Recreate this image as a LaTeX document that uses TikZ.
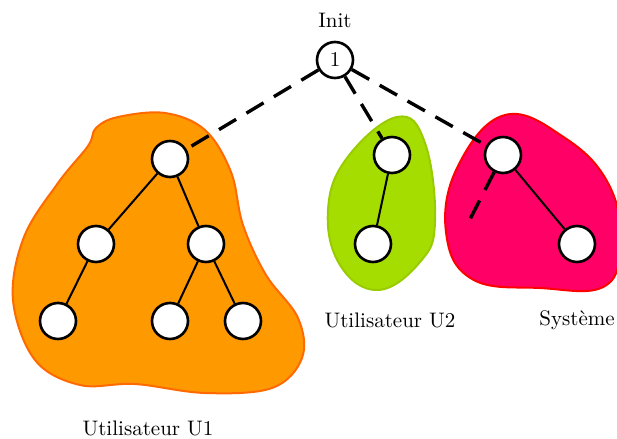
\documentclass[tikz,border=0pt]{standalone}
\usetikzlibrary{calc}
\definecolor{uorange}{HTML}{FF9900}
\definecolor{uorangeline}{HTML}{FF6A00}
\definecolor{ugreen}{HTML}{A6DD00}
\definecolor{ugreenline}{HTML}{99CC00}
\definecolor{upink}{HTML}{FF0066}
\definecolor{upinkline}{HTML}{FF0000}
\begin{document}
\begin{tikzpicture}[x=0.5pt,y=-0.5pt,
  every node/.style={font=\fontsize{10.5}{12}\selectfont},
  vert/.style={circle,draw=black,fill=white,line width=1.3pt,minimum size=18pt,inner sep=0pt},
  treeedge/.style={line width=1pt},
  dashedge/.style={line width=1.7pt,dash pattern=on 10pt off 6pt},
  blob/.style={line width=1pt}]
\useasboundingbox (0,0) rectangle (617,439);
% blobs
\fill[uorange,draw=uorangeline,blob] plot[smooth cycle,tension=0.6] coordinates {
 (88,146) (96,128) (118,117) (165,113) (205,130) (231,172) (243,225) (266,275) (298,318)
 (302,358) (272,388) (205,393) (135,384) (80,385) (35,360) (13,300) (24,237) (58,183)};
\fill[ugreen,draw=ugreenline,blob] plot[smooth cycle,tension=0.7] coordinates {
 (397,117) (425,143) (435,222) (420,262) (378,290) (340,265) (328,210) (347,158)};
\fill[upink,draw=upinkline,blob] plot[smooth cycle,tension=0.7] coordinates {
 (505,115) (565,138) (608,183) (620,240) (605,286) (540,288) (472,279) (446,232) (458,166)};
% nodes
\node[vert] (r) at (335,60) {1};
\node (init) at (335,20) {Init};
\node[vert] (a) at (170,159) {};
\node[vert] (a1) at (96,244) {};
\node[vert] (a2) at (206,244) {};
\node[vert] (a11) at (58,321) {};
\node[vert] (a21) at (170,321) {};
\node[vert] (a22) at (243,321) {};
\node[vert] (b) at (392,155) {};
\node[vert] (b1) at (373,244) {};
\node[vert] (c) at (503,155) {};
\node[vert] (c1) at (577,244) {};
\coordinate (cfree) at (467,225);
% edges
\draw[treeedge] (a) -- (a1);
\draw[treeedge] (a) -- (a2);
\draw[treeedge] (a1) -- (a11);
\draw[treeedge] (a2) -- (a21);
\draw[treeedge] (a2) -- (a22);
\draw[treeedge] (b) -- (b1);
\draw[treeedge] (c) -- (c1);
\draw[dashedge] (r) -- (a);
\draw[dashedge] (r) -- (b);
\draw[dashedge] (r) -- (c);
\draw[dashedge] (c) -- (cfree);
% labels
\node (lb) at (390,320) {Utilisateur U2};
\node (lc) at (577,320) {Système};
\node (la) at (148,428) {Utilisateur U1};
\end{tikzpicture}
\end{document}
